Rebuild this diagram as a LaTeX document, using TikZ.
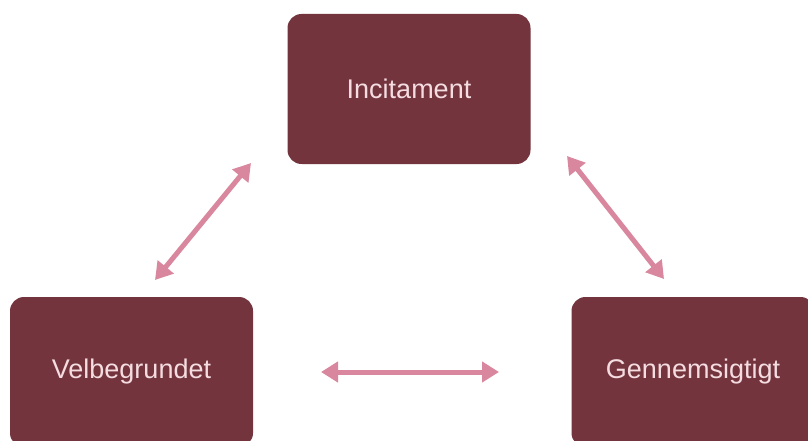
\documentclass[tikz,border=0pt]{standalone}
\usepackage{fontspec}
\setmainfont{Liberation Sans}
\usetikzlibrary{arrows.meta}
\definecolor{boxfill}{HTML}{74343E}
\definecolor{boxtext}{HTML}{F4DCE0}
\definecolor{arrowpink}{HTML}{D9879E}
\begin{document}
\begin{tikzpicture}[x=1pt,y=-1pt,
  card/.style={draw=none,fill=boxfill,rounded corners=14pt,minimum width=243pt,minimum height=150pt,inner sep=0pt,text=boxtext,font=\fontsize{27}{32}\selectfont},
  dbl/.style={draw=arrowpink,line width=5pt,{Triangle[length=17pt,width=20pt]}-{Triangle[length=17pt,width=20pt]}}]
\clip (0,0) rectangle (808,441);
\fill[white] (0,0) rectangle (808,441);
\node[card] (top) at (409,89) {Incitament};
\node[card] (left) at (131.5,372) {Velbegrundet};
\node[card] (right) at (693,372) {Gennemsigtigt};
\coordinate (l1) at (155,280);
\coordinate (l2) at (251,163);
\coordinate (r1) at (567,156);
\coordinate (r2) at (664,279);
\coordinate (h1) at (321,372);
\coordinate (h2) at (499,372);
\draw[dbl] (l1) -- (l2);
\draw[dbl] (r1) -- (r2);
\draw[dbl] (h1) -- (h2);
\end{tikzpicture}
\end{document}
